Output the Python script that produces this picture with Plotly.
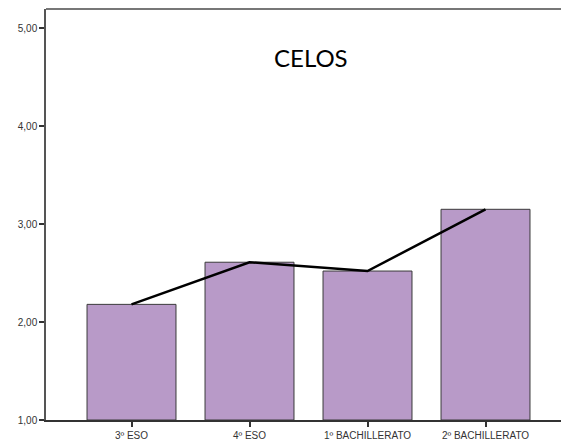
import plotly.graph_objects as go

categories = ["3º ESO", "4º ESO", "1º BACHILLERATO", "2º BACHILLERATO"]
values = [2.18, 2.61, 2.52, 3.15]
title_text = "CELOS"
y_base = 1

fig = go.Figure()
fig.add_trace(go.Bar(
    x=categories, y=[v - y_base for v in values], base=y_base,
    width=0.754,
    marker=dict(color="#b89ac8", line=dict(color="#3a3a3a", width=1)),
    hoverinfo="skip",
))
fig.add_trace(go.Scatter(
    x=categories, y=values, mode="lines",
    line=dict(color="black", width=2.5),
    hoverinfo="skip",
))

tick_font = dict(family="Liberation Sans", size=10, color="#333")

fig.update_layout(
    width=561, height=436,
    margin=dict(l=38, r=0, t=1, b=24),
    paper_bgcolor="white", plot_bgcolor="white",
    showlegend=False,
    separators=",.",
    font=tick_font,
    xaxis=dict(
        range=[-0.7246, 3.7076], showgrid=False, zeroline=False,
        showline=True, linecolor="#333", linewidth=1.5,
        ticks="outside", ticklen=5, tickcolor="#333", tickwidth=1.5,
        tickfont=tick_font,
        fixedrange=True,
    ),
    yaxis=dict(
        range=[1, 5.194], showgrid=False, zeroline=False,
        showline=True, linecolor="#555", linewidth=1.5,
        tickvals=[1, 2, 3, 4, 5], tickformat=".2f",
        ticks="outside", ticklen=5, tickcolor="#333", tickwidth=1.5,
        tickfont=tick_font,
        fixedrange=True,
    ),
    shapes=[dict(type="line", xref="paper", yref="paper", x0=0, x1=1, y0=1, y1=1,
                 line=dict(color="#777", width=2))],
    annotations=[dict(text=title_text, xref="paper", yref="paper", x=0.5076, y=0.883,
                      showarrow=False, xanchor="center", yanchor="middle",
                      font=dict(family="Lato, Open Sans", size=24, color="black"))],
)

fig.write_html("out.html", config={"displayModeBar": False})
